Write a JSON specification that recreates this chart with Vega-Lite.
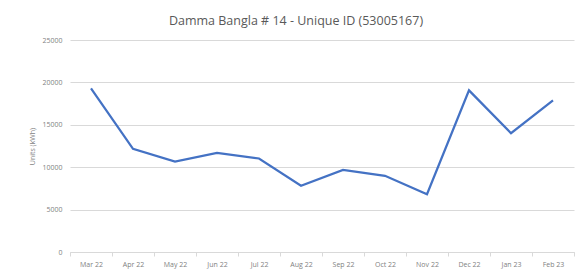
{
  "$schema": "https://vega.github.io/schema/vega-lite/v6.json",
  "autosize": {"type": "none"},
  "padding": {"left": 70, "top": 40, "right": 11, "bottom": 21},
  "width": 504,
  "height": 212,
  "background": "white",
  "title": {
    "text": "Damma Bangla # 14 - Unique ID (53005167)",
    "font": "Open Sans",
    "fontSize": 12.5,
    "fontWeight": "normal",
    "color": "#595959",
    "anchor": "middle",
    "dx": -26,
    "offset": 9
  },
  "data": {
    "values": [
      {"month": "Mar 22", "units": 19290},
      {"month": "Apr 22", "units": 12170},
      {"month": "May 22", "units": 10670},
      {"month": "Jun 22", "units": 11700},
      {"month": "Jul 22", "units": 11030},
      {"month": "Aug 22", "units": 7810},
      {"month": "Sep 22", "units": 9690},
      {"month": "Oct 22", "units": 8990},
      {"month": "Nov 22", "units": 6820},
      {"month": "Dec 22", "units": 19060},
      {"month": "Jan 23", "units": 14010},
      {"month": "Feb 23", "units": 17880}
    ]
  },
  "mark": {"type": "line", "color": "#4472C4", "strokeWidth": 2.25},
  "encoding": {
    "x": {
      "field": "month",
      "type": "ordinal",
      "sort": null,
      "bandPosition": 0.5,
      "scale": {"type": "band", "paddingInner": 0, "paddingOuter": 0},
      "axis": {
        "title": null,
        "labelAngle": 0,
        "tickBand": "extent",
        "labelFont": "Open Sans",
        "labelFontSize": 7,
        "labelColor": "#7f7f7f",
        "labelPadding": 4,
        "domainColor": "#d9d9d9",
        "tickColor": "#d9d9d9",
        "tickSize": 4,
        "grid": false
      }
    },
    "y": {
      "field": "units",
      "type": "quantitative",
      "scale": {"domain": [0, 25000], "nice": false},
      "axis": {
        "title": "Units (kWh)",
        "titleFont": "Open Sans",
        "titleFontSize": 7,
        "titleFontWeight": "normal",
        "titleColor": "#7f7f7f",
        "titlePadding": 6,
        "values": [0, 5000, 10000, 15000, 20000, 25000],
        "format": "d",
        "labelFont": "Open Sans",
        "labelFontSize": 7,
        "labelColor": "#7f7f7f",
        "labelPadding": 8,
        "domain": false,
        "ticks": false,
        "gridColor": "#d9d9d9",
        "gridWidth": 1
      }
    }
  },
  "config": {"view": {"stroke": null}}
}
